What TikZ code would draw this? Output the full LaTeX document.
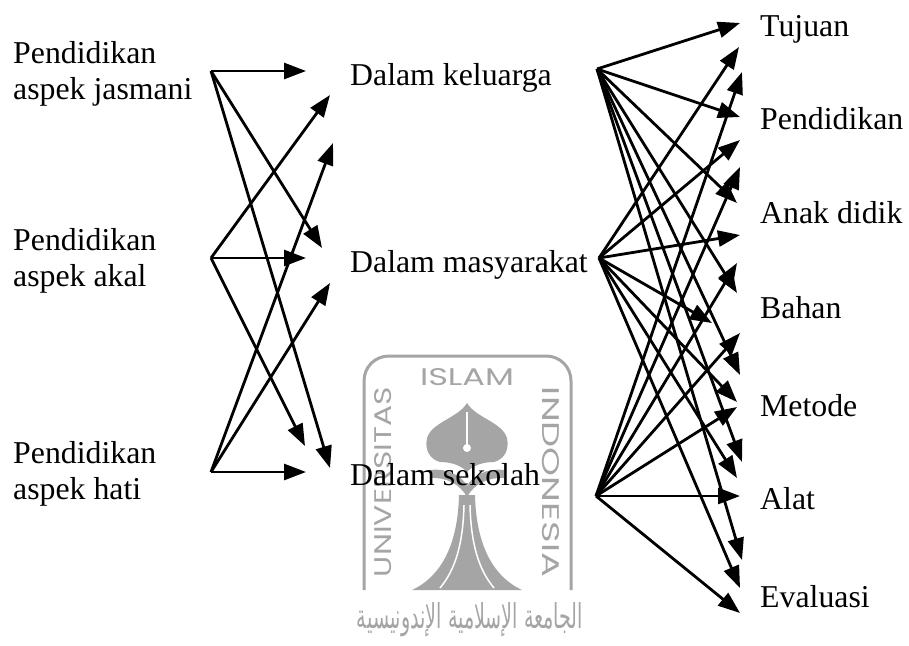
\documentclass[tikz,border=0pt]{standalone}
\usepackage{fontspec}
\usepackage{graphicx}
\setmainfont{Liberation Serif}
\newfontfamily\wmfont{Poppins}
\newfontfamily\arabicfont[Script=Arabic]{DejaVu Sans}
\TeXXeTstate=1
\usetikzlibrary{arrows.meta}
\definecolor{wm}{RGB}{165,165,165}
\begin{document}
\begin{tikzpicture}[x=1pt,y=-1pt,
  arr/.style={line width=2.8pt, -{Triangle[length=22pt,width=16pt]}},
  lbl/.style={font=\fontsize{31.8}{36}\selectfont, inner sep=0pt, anchor=base west, align=left},
  wmline/.style={draw=wm, line width=3pt},
  wmtext/.style={text=wm, font=\wmfont, inner sep=0pt}]
\useasboundingbox (0,0) rectangle (909,645);

% ---------- watermark ----------
\begin{scope}
\draw[wmline] (364,590) -- (364,381) .. controls (364,367) and (375,356) .. (389,356)
  -- (546,356) .. controls (560,356) and (571,367) .. (571,381) -- (571,590);
\fill[wm] (467,403) .. controls (458,418) and (432,422) .. (427,438)
  .. controls (424,452) and (432,460) .. (440,462)
  .. controls (452,462) and (462,466) .. (467,472)
  .. controls (472,466) and (482,462) .. (494,462)
  .. controls (502,460) and (510,452) .. (507,438)
  .. controls (502,422) and (476,418) .. (467,403) -- cycle;
\draw[white, line width=2pt] (467,412) -- (467,445);
\fill[white] (467,448) circle[radius=4pt];
\fill[wm] (430,470) .. controls (448,468) and (462,476) .. (467,486)
  .. controls (472,476) and (486,468) .. (504,470) -- (504,478)
  .. controls (488,477) and (474,484) .. (467,497)
  .. controls (460,484) and (446,477) .. (430,478) -- cycle;
\fill[wm] (459,495) -- (475,495) .. controls (476,540) and (490,575) .. (522,590)
  -- (412,590) .. controls (444,575) and (458,540) .. (459,495) -- cycle;
\draw[white, line width=1.5pt] (464,505) .. controls (463,545) and (455,570) .. (440,588);
\draw[white, line width=1.5pt] (470,505) .. controls (471,545) and (479,570) .. (494,588);
\node[wmtext] (wI) at (467,377) {\resizebox{94pt}{17pt}{ISLAM}};
\node[wmtext, rotate=90] (wU) at (383,482) {\resizebox{190pt}{17pt}{UNIVERSITAS}};
\node[wmtext, rotate=-90] (wN) at (551,482) {\resizebox{190pt}{17pt}{INDONESIA}};
\node[wmtext] (wA) at (470,620) {\resizebox{226pt}{26pt}{\arabicfont\beginR الجامعة الإسلامية الإندونيسية\endR}};
\end{scope}

% ---------- labels ----------
\node[lbl] (L1) at (13,99) {Pendidikan\\aspek jasmani};
\node[lbl] (L2) at (13,286) {Pendidikan\\aspek akal};
\node[lbl] (L3) at (13,499) {Pendidikan\\aspek hati};

\node[lbl] (M1) at (350,85) {Dalam keluarga};
\node[lbl] (M2) at (350,272) {Dalam masyarakat};
\node[lbl] (M3) at (350,485) {Dalam sekolah};

\node[lbl] (R1) at (760,36) {Tujuan};
\node[lbl] (R2) at (760,129) {Pendidikan};
\node[lbl] (R3) at (760,223) {Anak didik};
\node[lbl] (R4) at (760,318) {Bahan};
\node[lbl] (R5) at (760,416) {Metode};
\node[lbl] (R6) at (760,509) {Alat};
\node[lbl] (R7) at (760,607) {Evaluasi};

% ---------- source points ----------
\coordinate (sJ) at (211,71);
\coordinate (sA) at (211,258);
\coordinate (sH) at (211,472);
\coordinate (sK) at (597,69);
\coordinate (sM) at (599,258);
\coordinate (sS) at (596,496);

% ---------- tip points, left ----------
\coordinate (tJK) at (306,71);
\coordinate (tJM) at (322,248);
\coordinate (tJS) at (330,468);
\coordinate (tAK) at (330,95);
\coordinate (tAM) at (306,258);
\coordinate (tAS) at (305,446);
\coordinate (tHK) at (333,143);
\coordinate (tHM) at (330,283);
\coordinate (tHS) at (306,472);

% ---------- tip points, right ----------
\coordinate (tK1) at (740,23);
\coordinate (tK2) at (740,117);
\coordinate (tK3) at (737,203);
\coordinate (tK4) at (737,293);
\coordinate (tK5) at (740,375);
\coordinate (tK6) at (742,462);
\coordinate (tK7) at (742,560);
\coordinate (tM1) at (739,47);
\coordinate (tM2) at (740,140);
\coordinate (tM3) at (740,235);
\coordinate (tM4) at (712,323);
\coordinate (tM5) at (737,402);
\coordinate (tM6) at (737,478);
\coordinate (tM7) at (740,588);
\coordinate (tS1) at (742,72);
\coordinate (tS2) at (740,167);
\coordinate (tS3) at (737,263);
\coordinate (tS4) at (740,333);
\coordinate (tS5) at (737,407);
\coordinate (tS6) at (740,496);
\coordinate (tS7) at (740,613);

% ---------- arrows ----------
\foreach \s/\t in {sJ/tJK, sJ/tJM, sJ/tJS, sA/tAK, sA/tAM, sA/tAS, sH/tHK, sH/tHM, sH/tHS,
  sK/tK1, sK/tK2, sK/tK3, sK/tK4, sK/tK5, sK/tK6, sK/tK7,
  sM/tM1, sM/tM2, sM/tM3, sM/tM4, sM/tM5, sM/tM6, sM/tM7,
  sS/tS1, sS/tS2, sS/tS3, sS/tS4, sS/tS5, sS/tS6, sS/tS7}
  \draw[arr] (\s) -- (\t);
\end{tikzpicture}
\end{document}
